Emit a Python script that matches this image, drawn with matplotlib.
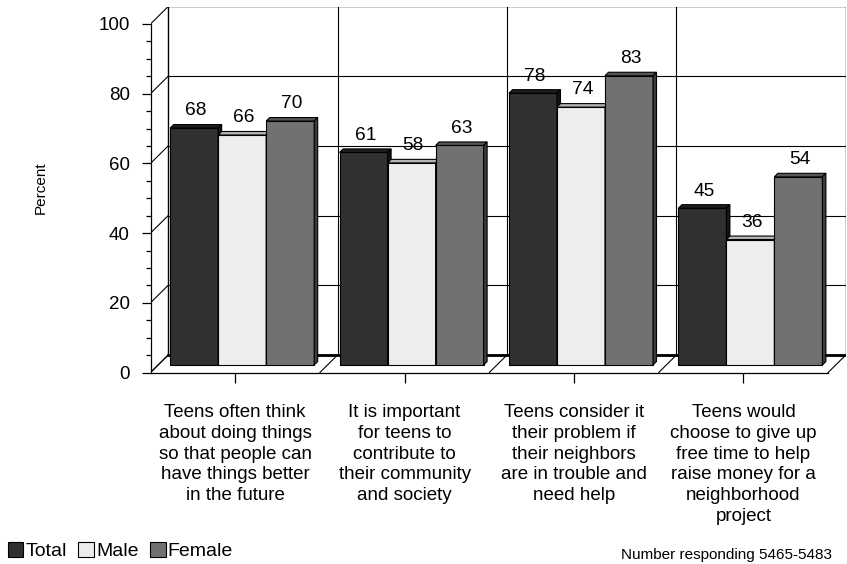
import numpy as np
import matplotlib.pyplot as plt
from matplotlib.patches import Polygon, Rectangle

plt.rcParams['font.family'] = ['Liberation Sans', 'DejaVu Sans']

# chart data
categories = ['Teens often think\nabout doing things\nso that people can\nhave things better\nin the future',
              'It is important\nfor teens to\ncontribute to\ntheir community\nand society',
              'Teens consider it\ntheir problem if\ntheir neighbors\nare in trouble and\nneed help',
              'Teens would\nchoose to give up\nfree time to help\nraise money for a\nneighborhood\nproject']
series_names = ['Total', 'Male', 'Female']
total = [68, 61, 78, 45]
male = [66, 58, 74, 36]
female = [70, 63, 83, 54]

face_cols = ['#303030', '#ededed', '#717171']
top_cols = ['#1e1e1e', '#b4b4b4', '#555555']
side_cols = ['#141414', '#9a9a9a', '#3c3c3c']

# geometry in pixels of the reference
W, H = 847, 564
x0, y0 = 150.5, 372.5
cat_px, unit_px = 169.4, 3.485
dxp, dyp = 17.7, 17.5          # depth of the box
fxp, fyp = 7.0, 7.5            # plane of the bars
bxp, byp = 3.5, 3.5            # depth of a bar
bar_px = 48.0

DX, DY = dxp / cat_px, dyp / unit_px
FX, FY = fxp / cat_px, fyp / unit_px
BX, BY = bxp / cat_px, byp / unit_px
bw = bar_px / cat_px
n = len(categories)

fig = plt.figure(figsize=(W / 100, H / 100), dpi=100)
ax = fig.add_axes([x0 / W, (H - y0) / H, (n * cat_px + dxp) / W, (100 * unit_px + dyp) / H])
ax.set_xlim(0, n + DX)
ax.set_ylim(0, 100 + DY)
ax.patch.set_visible(False)
for s in ['top', 'right']:
    ax.spines[s].set_visible(False)
ax.spines['left'].set_bounds(0, 100)
ax.spines['bottom'].set_bounds(0, n)
ax.spines['left'].set_linewidth(0.9)
ax.spines['bottom'].set_linewidth(0.9)

# back wall
ax.add_patch(Rectangle((DX, DY), n, 100, facecolor='white', edgecolor='black', lw=1.0, zorder=0))
for v in range(20, 100, 20):
    ax.plot([DX, n + DX], [v + DY, v + DY], color='black', lw=0.8, zorder=0.5)
for i in range(1, n):
    ax.plot([i + DX, i + DX], [DY, 100 + DY], color='black', lw=0.8, zorder=0.5)
# left wall diagonals
for v in range(0, 101, 20):
    ax.plot([0, DX], [v, v + DY], color='black', lw=0.8, zorder=0.5)
# floor
for i in range(0, n + 1):
    ax.plot([i, i + DX], [0, DY], color='black', lw=0.8, zorder=0.5)
ax.plot([DX, n + DX], [DY, DY], color='black', lw=2.0, zorder=0.6)

# bars
values = [total, male, female]
for j, vals in enumerate(values):
    xs = np.arange(n) + 0.5 - 1.5 * bw + j * bw + FX
    ax.bar(xs, vals, width=bw, bottom=FY, align='edge', color=face_cols[j],
           edgecolor='black', lw=0.8, zorder=2 + j, label=series_names[j])
    for x, v in zip(xs, vals):
        top = [(x, FY + v), (x + bw, FY + v), (x + bw + BX, FY + v + BY), (x + BX, FY + v + BY)]
        side = [(x + bw, FY), (x + bw, FY + v), (x + bw + BX, FY + v + BY), (x + bw + BX, FY + BY)]
        ax.add_patch(Polygon(top, closed=True, facecolor=top_cols[j], edgecolor='black', lw=0.8, zorder=2 + j))
        ax.add_patch(Polygon(side, closed=True, facecolor=side_cols[j], edgecolor='black', lw=0.8, zorder=2 + j))
        ax.annotate(str(v), (x + (bw + BX) / 2, FY + v + BY), xytext=(0, 6.6),
                    textcoords='offset points', ha='center', va='baseline', fontsize=13.8, zorder=10)

# axes ticks
ax.set_yticks(range(0, 101, 20))
ax.set_yticks(range(0, 101, 5), minor=True)
ax.tick_params(axis='y', which='major', length=6.3, width=0.9, pad=8.5, labelsize=13.5)
ax.tick_params(axis='y', which='minor', length=3.6, width=0.9)
ax.set_xticks(np.arange(n) + 0.5)
ax.set_xticklabels(categories, fontsize=13.5, linespacing=1.3, va='top')
ax.tick_params(axis='x', length=7.5, width=0.9, pad=15)

fig.text(41 / W, 1 - 188 / H, 'Percent', rotation=90, ha='center', va='center', fontsize=11)
fig.text(831.5 / W, 1 - 559 / H, 'Number responding 5465-5483', ha='right', va='baseline', fontsize=11)

fig.legend(loc='lower left', bbox_to_anchor=(4 / W, 1 - 564 / H), ncol=3, frameon=False,
           fontsize=14, handlelength=0.8, handleheight=0.8, handletextpad=0.1,
           columnspacing=0.6, borderpad=0.2, borderaxespad=0)

fig.savefig('out.png', dpi=100)
